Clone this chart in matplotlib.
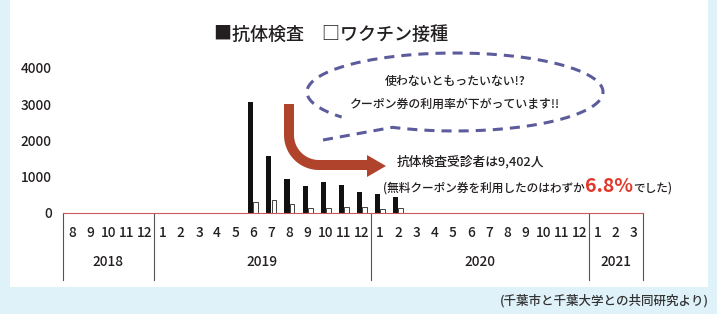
import numpy as np
import matplotlib
matplotlib.use('Agg')
import matplotlib.pyplot as plt
from matplotlib.patches import Rectangle, Polygon

plt.rcParams['font.family'] = ['Noto Sans CJK JP', 'DejaVu Sans']
plt.rcParams['font.weight'] = 500

# data: monthly counts, Aug 2018 - Mar 2021
year_names = ['2018', '2019', '2020', '2021']
months_per_year = [5, 12, 12, 3]
month_labels = [8, 9, 10, 11, 12] + list(range(1, 13)) + list(range(1, 13)) + [1, 2, 3]
antibody = [0, 0, 0, 0, 0,
            0, 0, 0, 10, 10, 3060, 1580, 940, 735, 855, 780, 570,
            525, 430, 10, 0, 0, 0, 0, 0, 0, 0, 0, 0,
            0, 0, 0]
vaccine = [0, 0, 0, 0, 0,
           0, 0, 0, 0, 0, 305, 350, 250, 150, 125, 165, 165,
           110, 138, 0, 0, 0, 0, 0, 0, 0, 0, 0, 0,
           0, 0, 0]
yticks = [0, 1000, 2000, 3000, 4000]

BG = '#dff1f9'
TXT = '#231f20'
ARROW = '#b0432b'
BUBBLE = '#5c5c9c'
RED = '#e0382a'

W, H = 717, 314
fig = plt.figure(figsize=(W / 100, H / 100), dpi=100)
fig.patch.set_facecolor(BG)

bg = fig.add_axes([0, 0, 1, 1], zorder=0)
bg.set_xlim(0, W)
bg.set_ylim(H, 0)
bg.axis('off')
bg.add_patch(Rectangle((10, 0), 698, 287, color='white', lw=0))

# main bar chart
ax = fig.add_axes([63 / W, (H - 213) / H, 580 / W, 145 / H], zorder=1)
ax.set_facecolor('none')
n = len(month_labels)
x = np.arange(n) + 0.5
ab = np.array(antibody)
vc = np.array(vaccine)
m1 = ab > 0
m2 = vc > 0
ax.bar(x[m1] - 0.14, ab[m1], width=0.28, color='#111111', lw=0)
ax.bar(x[m2] + 0.14, vc[m2], width=0.26, facecolor='white',
       edgecolor='#222222', linewidth=0.6)
ax.set_xlim(0, n)
ax.set_ylim(0, 4000)
for s in ['top', 'right', 'left']:
    ax.spines[s].set_visible(False)
ax.spines['bottom'].set_color('#c85a5a')
ax.spines['bottom'].set_linewidth(0.8)
ax.set_xticks([])
ax.set_yticks(yticks)
ax.set_yticklabels([str(v) for v in yticks])
ax.tick_params(axis='y', length=0, pad=8, labelsize=9.8, labelcolor=TXT)

tr = ax.get_xaxis_transform()
for xi, m in zip(x, month_labels):
    ax.text(xi, -0.135, str(m), transform=tr, ha='center', va='center',
            fontsize=9.8, color=TXT)
bounds = np.concatenate([[0], np.cumsum(months_per_year)])
for b in bounds:
    ax.plot([b, b], [0, -0.46], transform=tr, clip_on=False,
            color='#555555', lw=0.8)
for name, a, b in zip(year_names, bounds[:-1], bounds[1:]):
    ax.text((a + b) / 2, -0.34, name, transform=tr, ha='center', va='center',
            fontsize=9.8, color=TXT)

# overlay: title, bubble, arrow, notes (pixel coords)
ov = fig.add_axes([0, 0, 1, 1], zorder=2)
ov.set_xlim(0, W)
ov.set_ylim(H, 0)
ov.axis('off')
ov.patch.set_alpha(0)

ov.text(331, 35, '■抗体検査　□ワクチン接種', ha='center', va='center',
        fontsize=13, color=TXT)

# speech bubble
t = np.radians(np.linspace(245, 580, 200))
bx = np.concatenate([[323], 455 + 148 * np.cos(t)])
by = np.concatenate([[140], 92 - 39 * np.sin(t)])
ov.plot(bx, by, color=BUBBLE, lw=2.2, linestyle=(0, (3.3, 2.3)),
        solid_capstyle='butt', dash_capstyle='butt')
ov.text(455, 82, '使わないともったいない!?', ha='center', va='center',
        fontsize=8.6, color=TXT)
ov.text(455, 104, 'クーポン券の利用率が下がっています!!', ha='center', va='center',
        fontsize=8.6, color=TXT)

# curved arrow
th = np.radians(np.linspace(180, 90, 40))
axx = np.concatenate([[289], 319 + 30 * np.cos(th), [368]])
ayy = np.concatenate([[104], 135 + 30 * np.sin(th), [165]])
ov.plot(axx, ayy, color=ARROW, lw=7.2, solid_capstyle='butt',
        solid_joinstyle='round')
ov.add_patch(Polygon([(367, 155), (386, 166), (367, 177)], closed=True,
                     color=ARROW, lw=0))

ov.text(397, 162, '抗体検査受診者は9,402人', ha='left', va='center',
        fontsize=9.2, color=TXT)
ov.text(585, 188, '(無料クーポン券を利用したのはわずか', ha='right', va='center',
        fontsize=8.4, color=TXT)
ov.text(585, 186, '6.8%', ha='left', va='center', fontsize=14,
        fontweight='bold', color=RED)
ov.text(633, 188, 'でした)', ha='left', va='center', fontsize=8.4, color=TXT)

ov.text(709, 301, '(千葉市と千葉大学との共同研究より)', ha='right', va='center',
        fontsize=9, color='#333333')

fig.savefig('out.png', dpi=100, facecolor=BG)
